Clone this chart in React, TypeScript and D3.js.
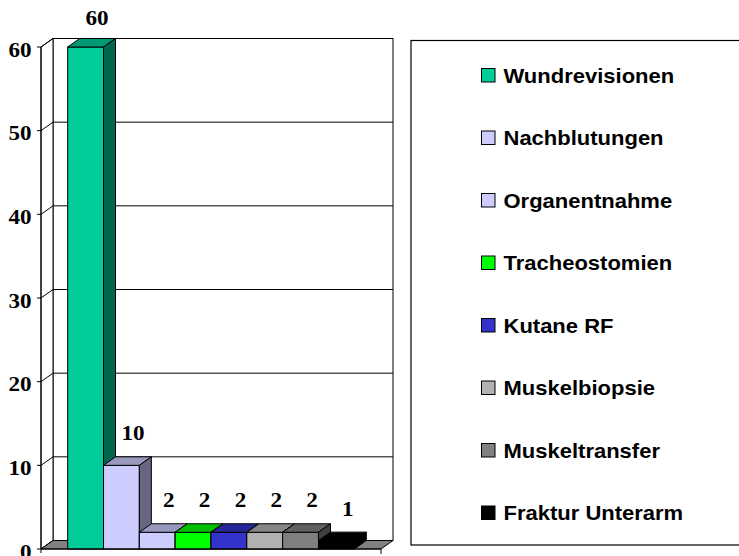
import React from 'react';
import * as d3 from 'd3';

const categories = [
  'Wundrevisionen',
  'Nachblutungen',
  'Organentnahme',
  'Tracheostomien',
  'Kutane RF',
  'Muskelbiopsie',
  'Muskeltransfer',
  'Fraktur Unterarm',
];
const values = [60, 10, 2, 2, 2, 2, 2, 1];
const colors = ['#00CC99', '#CCCCFF', '#CCCCFF', '#00FF00', '#3333CC', '#B2B2B2', '#808080', '#000000'];
const yTicks = [0, 10, 20, 30, 40, 50, 60];

const W = 739;
const H = 556;
// 3D depth offset
const DX = 12;
const DY = -8.5;
// the original picture is a bit wider than tall, texts included
const SX = 1.1;

const serif = "'Liberation Serif', 'Times New Roman', serif";
const sans = "'Liberation Sans', Arial, sans-serif";

const shade = (c: string, k: number) => {
  const r = d3.rgb(c);
  return d3.rgb(r.r * k, r.g * k, r.b * k).formatHex();
};

const pts = (p: [number, number][]) => p.map((d) => d.join(',')).join(' ');

function Label({ x, y, anchor, family, size, children }: any) {
  return (
    <g transform={`translate(${x},${y}) scale(${SX},1)`}>
      <text textAnchor={anchor} fontFamily={family} fontWeight="bold" fontSize={size}>
        {children}
      </text>
    </g>
  );
}

export default function App() {
  const x = d3.scaleBand<string>().domain(categories).range([41, 381]).paddingInner(0).paddingOuter(0.745);
  const y = d3.scaleLinear().domain([0, 60]).range([549, 47]);
  const bw = x.bandwidth();
  const x0 = 41;
  const x1 = 381;

  return (
    <svg width={W} height={H} style={{ position: 'absolute', left: 0, top: 0, background: '#fff' }}>
      {/* back wall + left wall */}
      <rect x={x0 + DX} y={y(60) + DY} width={x1 - x0} height={y(0) - y(60)} fill="#fff" stroke="#000" strokeWidth={1} />
      <polygon
        points={pts([[x0, y(60)], [x0 + DX, y(60) + DY], [x0 + DX, y(0) + DY], [x0, y(0)]])}
        fill="#fff"
        stroke="#000"
        strokeWidth={1}
      />
      {/* gridlines and y axis */}
      {yTicks.map((t) => (
        <g key={t}>
          <line x1={x0 + DX} x2={x1 + DX} y1={y(t) + DY} y2={y(t) + DY} stroke="#000" strokeWidth={1} />
          <line x1={x0} x2={x0 + DX} y1={y(t)} y2={y(t) + DY} stroke="#000" strokeWidth={1} />
          <line x1={x0 - 4} x2={x0} y1={y(t)} y2={y(t)} stroke="#000" strokeWidth={1} />
          <Label x={31.5} y={y(t) + 9.5} anchor="end" family={serif} size={21}>
            {t}
          </Label>
        </g>
      ))}
      {/* floor */}
      <polygon
        points={pts([[x0, y(0)], [x1, y(0)], [x1 + DX, y(0) + DY], [x0 + DX, y(0) + DY]])}
        fill="#808080"
        stroke="#000"
        strokeWidth={1}
      />
      {/* bars */}
      {categories.map((c, i) => {
        const bx = x(c)!;
        const top = y(values[i]);
        const base = y(0);
        const col = colors[i];
        return (
          <g key={c} stroke="#000" strokeWidth={1}>
            <rect x={bx} y={top} width={bw} height={base - top} fill={col} />
            <polygon
              points={pts([[bx, top], [bx + DX, top + DY], [bx + bw + DX, top + DY], [bx + bw, top]])}
              fill={shade(col, 0.75)}
            />
            <polygon
              points={pts([[bx + bw, top], [bx + bw + DX, top + DY], [bx + bw + DX, base + DY], [bx + bw, base]])}
              fill={shade(col, 0.5)}
            />
          </g>
        );
      })}
      {/* front axis */}
      <line x1={x0} x2={x0} y1={y(60)} y2={y(0) + 4} stroke="#000" strokeWidth={1} />
      <line x1={x0} x2={x1} y1={y(0)} y2={y(0)} stroke="#000" strokeWidth={1} />
      <line x1={x1} x2={x1} y1={y(0)} y2={y(0) + 5} stroke="#000" strokeWidth={1} />
      {/* value labels */}
      {categories.map((c, i) => (
        <Label
          key={c}
          x={x(c)! + bw / 2 + DX - 0.5}
          y={Math.max(y(values[i]) + DY - 16.5, 25)}
          anchor="middle"
          family={serif}
          size={21}
        >
          {values[i]}
        </Label>
      ))}
      {/* legend */}
      <rect x={411} y={40.5} width={340} height={504.5} fill="#fff" stroke="#000" strokeWidth={1.2} />
      {categories.map((c, i) => {
        const cy = 75 + i * 62.5;
        return (
          <g key={c}>
            <rect x={481.5} y={cy - 6.5} width={13.5} height={13.5} fill={colors[i]} stroke="#000" strokeWidth={1} />
            <Label x={503.5} y={cy + 7.5} anchor="start" family={sans} size={20}>
              {c}
            </Label>
          </g>
        );
      })}
    </svg>
  );
}
